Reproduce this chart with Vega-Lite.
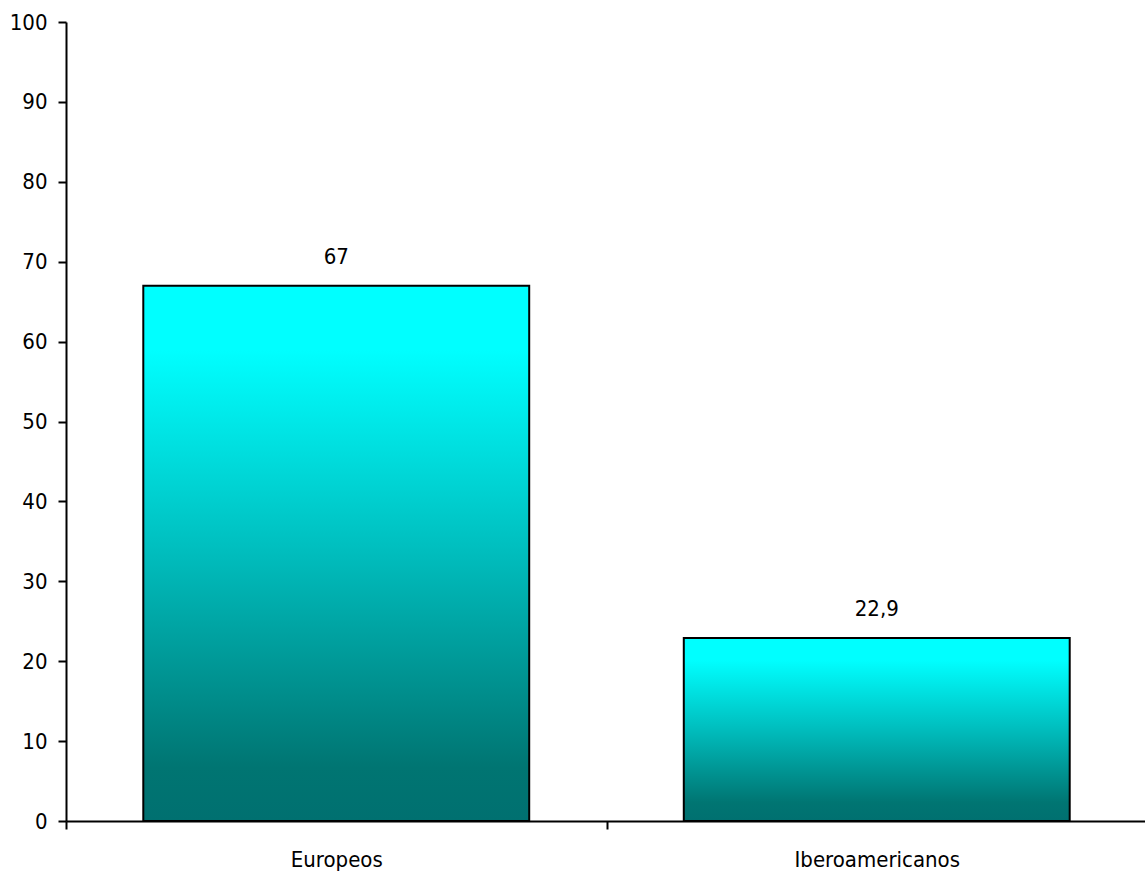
{
  "$schema": "https://vega.github.io/schema/vega-lite/v6.json",
  "autosize": {"type": "none"},
  "width": 1081,
  "height": 799,
  "padding": {"left": 66, "top": 22, "right": 0, "bottom": 54},
  "background": "white",
  "config": {
    "locale": {"number": {"decimal": ",", "thousands": ".", "grouping": [3], "currency": ["", " €"]}},
    "view": {"stroke": null},
    "font": "DejaVu Sans Condensed, Liberation Sans, sans-serif"
  },
  "data": {
    "values": [
      {"grupo": "Europeos", "valor": 67},
      {"grupo": "Iberoamericanos", "valor": 22.9}
    ]
  },
  "encoding": {
    "x": {
      "field": "grupo", "type": "nominal", "sort": null,
      "scale": {"paddingInner": 0, "paddingOuter": 0},
      "axis": {
        "title": null, "labelAngle": 0, "tickBand": "extent",
        "domainColor": "black", "domainWidth": 2, "tickColor": "black", "tickWidth": 2, "tickSize": 8,
        "labelFont": "DejaVu Sans Condensed, Liberation Sans, sans-serif", "labelFontSize": 22, "labelColor": "black", "labelPadding": 30, "labelBaseline": "middle"
      }
    },
    "y": {
      "field": "valor", "type": "quantitative",
      "scale": {"domain": [0, 100], "nice": false},
      "axis": {
        "title": null, "grid": false, "values": [0,10,20,30,40,50,60,70,80,90,100],
        "domainColor": "black", "domainWidth": 2, "tickColor": "black", "tickWidth": 2, "tickSize": 8,
        "labelFont": "DejaVu Sans Condensed, Liberation Sans, sans-serif", "labelFontSize": 22, "labelColor": "black", "labelPadding": 11
      }
    }
  },
  "layer": [
    {
      "mark": {
        "type": "bar",
        "width": {"band": 0.714},
        "stroke": "black", "strokeWidth": 2,
        "color": {
          "gradient": "linear", "x1": 0, "y1": 1, "x2": 0, "y2": 0,
          "stops": [
            {"offset": 0, "color": "#007070"},
            {"offset": 0.1, "color": "#007572"},
            {"offset": 0.5, "color": "#00BDBD"},
            {"offset": 0.88, "color": "#00FFFF"},
            {"offset": 1, "color": "#00FFFF"}
          ]
        }
      }
    },
    {
      "mark": {"type": "text", "baseline": "middle", "dy": -29, "fontSize": 22, "color": "black"},
      "encoding": {"text": {"field": "valor", "type": "quantitative", "format": "~g"}}
    }
  ]
}
